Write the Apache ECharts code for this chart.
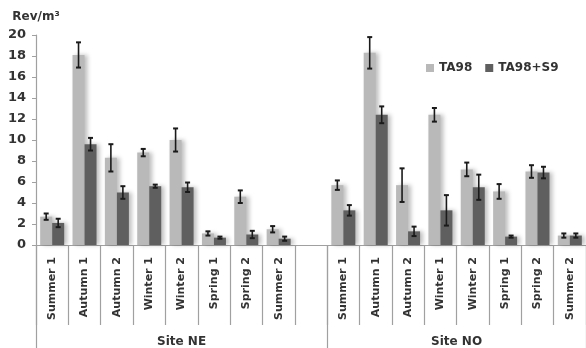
<!DOCTYPE html>
<html><head><meta charset="utf-8">
<script src="https://cdn.jsdelivr.net/npm/echarts@6/dist/echarts.min.js"></script>
<style>html,body{margin:0;padding:0;background:#fff}#c{width:586px;height:348px}</style>
</head><body><div id="c"></div>
<script>
const categories = ['Summer 1','Autumn 1','Autumn 2','Winter 1','Winter 2','Spring 1','Spring 2','Summer 2','','Summer 1','Autumn 1','Autumn 2','Winter 1','Winter 2','Spring 1','Spring 2','Summer 2'];
const siteLabels = ['Site NE','Site NO'];
const siteCenters = [4.5, 13];
const siteBounds = [0, 9, 17];
const ta98 = [2.7,18.1,8.3,8.8,10.0,1.1,4.6,1.5,null,5.7,18.3,5.7,12.4,7.2,5.1,7.0,0.9];
const ta98Err = [0.3,1.2,1.3,0.35,1.1,0.2,0.6,0.3,null,0.45,1.5,1.6,0.65,0.65,0.7,0.6,0.2];
const s9 = [2.1,9.6,5.0,5.6,5.5,0.7,1.0,0.6,null,3.3,12.4,1.3,3.3,5.5,0.8,6.9,0.9];
const s9Err = [0.4,0.6,0.6,0.15,0.45,0.1,0.35,0.2,null,0.5,0.8,0.45,1.45,1.2,0.1,0.55,0.2];
const yMin = 0, yMax = 20, yStep = 2;

const FONT = 'DejaVu Sans';
const AXIS_COLOR = '#a0a0a0';
const BAR_W = 12;

function errData(vals, errs){
  const out = [];
  vals.forEach((v,i)=>{ if(v!=null) out.push([i, v-errs[i], v+errs[i]]); });
  return out;
}
function errRender(offset){
  return function(params, api){
    const i = api.value(0), lo = api.value(1), hi = api.value(2);
    const p1 = api.coord([i, hi]), p2 = api.coord([i, lo]);
    const x = p1[0] + offset, w = 2.5;
    const st = {stroke:'#1a1a1a', lineWidth:1.6};
    return {type:'group', children:[
      {type:'line', shape:{x1:x,y1:p1[1],x2:x,y2:p2[1]}, style:st},
      {type:'line', shape:{x1:x-w,y1:p1[1],x2:x+w,y2:p1[1]}, style:{stroke:'#1a1a1a', lineWidth:2}},
      {type:'line', shape:{x1:x-w,y1:p2[1],x2:x+w,y2:p2[1]}, style:{stroke:'#1a1a1a', lineWidth:2}}
    ]};
  };
}

const chart = echarts.init(document.getElementById('c'), null, {renderer:'canvas'});
chart.setOption({
  animation:false,
  backgroundColor:'#fff',
  textStyle:{fontFamily:FONT},
  legend:{
    data:['TA98','TA98+S9'], left:421, top:57, itemWidth:8, itemHeight:8, itemGap:13,
    icon:'rect',
    textStyle:{fontFamily:FONT, fontWeight:'bold', fontSize:12, color:'#333'}
  },
  grid:{left:36, top:35, bottom:103, width:552, containLabel:false},
  xAxis:[{
    type:'category', data:categories, boundaryGap:true,
    axisLine:{lineStyle:{color:AXIS_COLOR, width:1.2}},
    axisTick:{show:true, interval:0, alignWithLabel:false, length:80, lineStyle:{color:AXIS_COLOR, width:1.2}},
    axisLabel:{interval:0, rotate:90, margin:12, fontFamily:FONT, fontWeight:'bold', fontSize:11, color:'#333'}
  },{
    type:'value', min:0, max:17, position:'bottom',
    axisLine:{show:false}, splitLine:{show:false},
    axisTick:{show:true, customValues:siteBounds, length:110, lineStyle:{color:AXIS_COLOR, width:1.2}},
    axisLabel:{show:true, customValues:siteCenters, margin:91, fontFamily:FONT, fontWeight:'bold', fontSize:12, color:'#333',
      formatter:v=>siteLabels[siteCenters.indexOf(v)] || ''}
  }],
  yAxis:{
    type:'value', min:yMin, max:yMax, interval:yStep,
    name:'Rev/m³', nameLocation:'end', nameGap:12,
    nameTextStyle:{fontFamily:FONT, fontWeight:'bold', fontSize:12, color:'#333'},
    axisLine:{show:true, lineStyle:{color:AXIS_COLOR, width:1.2}},
    axisTick:{show:true, length:4, lineStyle:{color:AXIS_COLOR}},
    splitLine:{show:false},
    axisLabel:{margin:10, fontFamily:FONT, fontWeight:'bold', fontSize:13, color:'#333'}
  },
  series:[
    {name:'TA98', type:'bar', data:ta98, barWidth:BAR_W, barGap:'0%',
      itemStyle:{color:'#b9b9b9', shadowBlur:4, shadowColor:'rgba(0,0,0,0.25)', shadowOffsetX:3}},
    {name:'TA98+S9', type:'bar', data:s9, barWidth:BAR_W, barGap:'0%',
      itemStyle:{color:'#5f5f5f', shadowBlur:4, shadowColor:'rgba(0,0,0,0.25)', shadowOffsetX:3}},
    {name:'errTA98', type:'custom', data:errData(ta98, ta98Err), renderItem:errRender(-BAR_W/2), z:5},
    {name:'errS9', type:'custom', data:errData(s9, s9Err), renderItem:errRender(BAR_W/2), z:5}
  ]
});
</script></body></html>
